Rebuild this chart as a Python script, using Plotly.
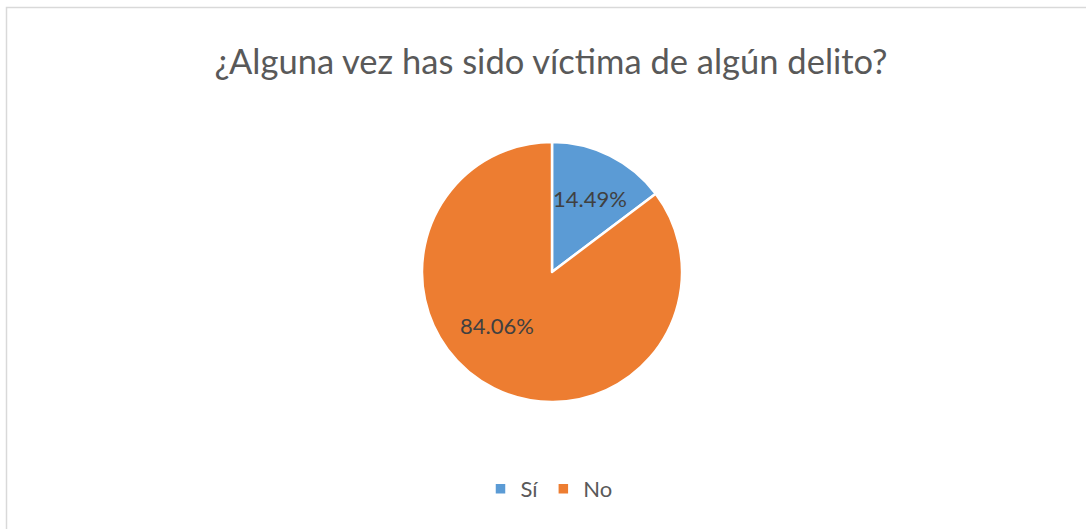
import plotly.graph_objects as go

categories = ["Sí", "No"]
values = [14.49, 84.06]
colors = ["#5B9BD5", "#ED7D31"]
title_text = "¿Alguna vez has sido víctima de algún delito?"

W, H = 1086, 529
cx, cy, r = 552, 272, 130
FONT = "Lato, Open Sans, sans-serif"

fig = go.Figure()
fig.add_trace(go.Pie(
    labels=categories,
    values=values,
    sort=False,
    direction="clockwise",
    rotation=0,
    marker=dict(colors=colors, line=dict(color="white", width=2.5)),
    textinfo="none",
    hoverinfo="label+value",
    showlegend=True,
    domain=dict(x=[(cx - r) / W, (cx + r) / W], y=[1 - (cy + r) / H, 1 - (cy - r) / H]),
))

# data labels
label_pos = [(590, 198), (497, 325)]
for v, (x, y) in zip(values, label_pos):
    fig.add_annotation(
        x=x / W, y=1 - y / H, xref="paper", yref="paper",
        text=f"{v:.2f}%", showarrow=False,
        font=dict(family=FONT, size=22, color="#404040"),
        xanchor="center", yanchor="middle",
    )

fig.add_shape(type="rect", xref="paper", yref="paper",
              x0=6.5 / W, x1=1.01, y0=-0.01, y1=1 - 7.5 / H,
              line=dict(color="#D9D9D9", width=1.5), fillcolor="rgba(0,0,0,0)")

fig.update_layout(
    width=W, height=H,
    margin=dict(l=0, r=0, t=0, b=0),
    paper_bgcolor="white",
    plot_bgcolor="white",
    title=dict(text=title_text, x=551 / W, xanchor="center", y=1 - 62 / H, yanchor="middle",
               font=dict(family=FONT, size=34.5, color="#595959")),
    legend=dict(orientation="h", x=0.5 + 6 / W, xanchor="center", y=1 - 489 / H, yanchor="middle",
                font=dict(family=FONT, size=22, color="#595959"),
                itemwidth=30, bgcolor="rgba(0,0,0,0)"),
)

fig.write_html("out.html", config={"displayModeBar": False},
               post_script="document.body.style.margin='0';document.body.style.overflow='hidden';")
